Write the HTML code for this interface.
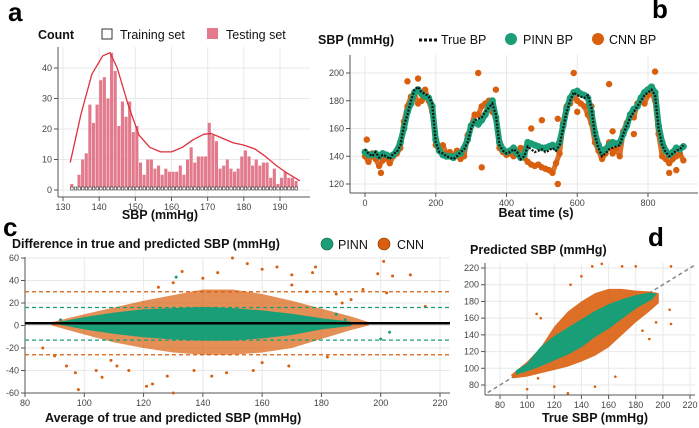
<!DOCTYPE html>
<html><head><meta charset="utf-8">
<style>
html,body{margin:0;padding:0;background:#fff;}
svg{display:block;font-family:"Liberation Sans",Arial,sans-serif;}
.tk{font-size:9px;fill:#444;}
.tt{font-size:12.5px;font-weight:bold;fill:#111;}
.lg{font-size:12.5px;fill:#111;}
.pl{font-size:26px;font-weight:bold;fill:#000;}
</style></head>
<body>
<svg id="fig" width="699" height="428" viewBox="0 0 699 428">
<rect x="0" y="0" width="699" height="428" fill="#fff"/>
</svg>
<script>
// ---------- Panel a data ----------
const histBins = [132,133,134,135,136,137,138,139,140,141,142,143,144,145,146,147,148,149,150,151,152,153,154,155,156,157,158,159,160,161,162,163,164,165,166,167,168,169,170,171,172,173,174,175,176,177,178,179,180,181,182,183,184,185,186,187,188,189,190,191,192,193,194];
const histCounts = [2,0,5,10,12,28,22,28,36,37,30,45,39,21,29,24,29,19,21,9,5,10,10,7,8,5,7,6,6,6,8,5,10,14,9,11,11,11,22,18,16,7,8,10,7,6,7,11,13,11,8,10,8,9,9,4,7,2,4,6,4,4,3];
const kdeX = [132,135,138,141,143,145,148,151,154,157,160,163,166,169,171,174,177,180,183,186,189,192,195.5];
const kdeY = [9,25,38,44,45,40,28,18,14,12.5,12.5,14,16.5,18.3,18.5,17,15.5,14.7,13.5,11,8,5.5,3];
const aXTicks = [130,140,150,160,170,180,190];
const aYTicks = [0,10,20,30,40];
// ---------- Panel b data ----------
const beatTime = [0,10,20,30,40,50,60,70,80,90,100,110,120,130,140,150,160,170,180,190,200,210,220,230,240,250,260,270,280,290,300,310,320,330,340,350,360,370,380,390,400,410,420,430,440,450,460,470,480,490,500,510,520,530,540,550,560,570,580,590,600,610,620,630,640,650,660,670,680,690,700,710,720,730,740,750,760,770,780,790,800,810,820,830,840,850,860,870,880,890,900];
const trueBP = [145,142,140,143,139,141,140,138,142,143,148,162,170,180,188,190,186,185,183,178,150,143,142,140,139,138,140,143,145,150,160,166,167,168,172,175,178,170,148,144,142,143,145,143,138,140,147,145,143,144,145,143,144,146,144,148,160,172,180,186,184,183,182,184,175,155,146,140,142,145,146,147,148,156,162,168,172,176,180,184,186,188,184,160,148,143,140,142,144,145,148];
const pinnBP = [143,141,141,142,140,142,141,140,141,144,150,160,172,178,186,188,185,183,182,176,152,144,141,140,140,139,141,142,146,152,162,165,163,166,170,176,180,168,150,145,143,144,146,142,139,141,150,149,148,147,146,146,147,148,146,150,162,174,182,186,187,185,184,182,172,157,148,143,145,148,150,149,150,156,162,170,174,176,182,186,188,190,186,162,150,144,141,143,146,145,147];
const cnnBP = [140,136,142,138,133,137,139,135,140,142,146,165,176,183,185,178,180,188,180,172,148,146,148,142,143,140,144,138,140,155,162,170,170,176,178,180,172,168,146,143,141,142,140,144,146,139,136,134,133,134,132,131,130,128,135,142,164,176,178,186,180,178,176,170,164,150,144,138,142,150,142,146,140,158,164,170,168,178,182,178,184,186,180,156,140,138,135,138,140,142,137];
const cnnOutT = [5,45,120,150,160,320,330,355,370,470,500,545,545,590,600,640,690,700,760,820,860,880];
const cnnOutV = [152,128,194,196,180,200,132,178,188,160,166,120,167,200,172,176,192,158,156,201,128,130];
const bXTicks = [0,200,400,600,800];
const bYTicks = [120,140,160,180,200];
// ---------- Panel c data ----------
const pinnEnvX = [92,100,110,120,130,140,150,160,170,180,190];
const pinnEnvUp = [3,7,11,14,15,16,15,13,10,6,3];
const pinnEnvLo = [1,-3,-7,-10,-12,-13,-13,-11,-8,-3,0];
const cnnEnvX = [89,100,110,120,130,140,150,160,170,180,190,196];
const cnnEnvUp = [3,10,16,22,27,32,32,28,22,15,8,3];
const cnnEnvLo = [0,-8,-15,-20,-24,-26,-26,-24,-20,-12,-4,0];
const cnnOutAvg = [86,90,97,98,104,106,121,123,130,128,133,140,145,150,155,160,165,170,178,177,185,190,199,201,204,210,202,215,182,169,157,148,115,111,94,109,194,187,130,125,170,175,160,143,137];
const cnnOutDiff = [-20,-27,-42,-57,-40,-46,-54,-52,-60,-45,48,42,47,60,55,50,52,45,52,47,28,23,46,57,44,45,29,17,-28,-36,-40,-42,-40,-36,-36,-31,32,20,38,34,36,30,-33,-45,-40];
const pinnOutAvg = [131,203,200,185,188,92];
const pinnOutDiff = [43,-6,-12,10,5,5];
const meanDiff = 2;
const pinnLoA = [16,-13];
const cnnLoA = [30,-26];
const cXTicks = [80,100,120,140,160,180,200,220];
const cYTicks = [-60,-40,-20,0,20,40,60];
// ---------- Panel d data ----------
const cnnPolyTrue = [88,100,110,120,130,140,150,160,170,180,190,197,197,190,180,170,160,150,140,130,120,110,100,90];
const cnnPolyPred = [92,108,125,150,168,180,190,195,195,193,192,190,178,168,155,140,125,115,108,102,98,94,90,88];
const pinnPolyTrue = [92,100,110,120,130,140,150,160,170,180,190,195,192,180,170,160,150,140,130,120,110,100,92];
const pinnPolyPred = [97,105,125,138,148,158,168,176,182,187,190,189,183,172,160,148,138,126,117,110,103,97,93];
const dOutTrue = [155,148,170,140,132,180,206,195,206,205,107,110,100,150,165,190,185,120,130,108];
const dOutPred = [225,222,222,210,200,222,222,155,153,170,165,160,75,78,90,135,145,78,70,88];
const dXTicks = [80,100,120,140,160,180,200,220];
const dYTicks = [80,100,120,140,160,180,200,220];

const TEAL = '#1a9e77', ORANGE = '#d95f0e', PINK = '#e27a8c';
const svg = document.getElementById('fig');
const NS = 'http://www.w3.org/2000/svg';
function mk(tag, attrs, parent) {
  const e = document.createElementNS(NS, tag);
  for (const k in attrs) e.setAttribute(k, attrs[k]);
  (parent || svg).appendChild(e);
  return e;
}
function txt(x, y, s, cls, anchor, parent) {
  const t = mk('text', {x: x, y: y, class: cls, 'text-anchor': anchor || 'start'}, parent);
  t.textContent = s;
  return t;
}
function scale(d0, d1, r0, r1) { return v => r0 + (v - d0) * (r1 - r0) / (d1 - d0); }
function axes(name, L, T, R, B, sx, sy, xt, yt) {
  const g = mk('g', {});
  
  
  xt.forEach(v => {
    const ln = mk('line', {x1: sx(v), x2: sx(v), y1: T, y2: B, stroke: '#e8e8e8', 'stroke-width': 1}, g);
    
    
    mk('line', {x1: sx(v), x2: sx(v), y1: B, y2: B + 4, stroke: '#555'}, g);
    const t = txt(sx(v), B + 13, String(v), 'tk', 'middle', g);
    
    
  });
  yt.forEach(v => {
    const ln = mk('line', {x1: L, x2: R, y1: sy(v), y2: sy(v), stroke: '#e8e8e8', 'stroke-width': 1}, g);
    
    
    mk('line', {x1: L - 4, x2: L, y1: sy(v), y2: sy(v), stroke: '#555'}, g);
    const t = txt(L - 6, sy(v) + 3, String(v), 'tk', 'end', g);
    
    
  });
  const xa = mk('line', {x1: L, x2: R, y1: B, y2: B, stroke: '#555'}, g);
  
  
  const ya = mk('line', {x1: L, x2: L, y1: T, y2: B, stroke: '#555'}, g);
  
  
}
function named(e, n) {   return e; }

// ================= Panel a =================
(function () {
  const L = 58, T = 47, R = 310, B = 197;
  const sx = scale(130, 190, 63, 280);
  const sy = scale(0, 40, 190, 68);
  axes('panel-a', L, T, R, B, sx, sy, aXTicks, aYTicks);
  const w = sx(1) - sx(0);
  histBins.forEach((b, i) => {
    if (histCounts[i] <= 0) return;
    const r = mk('rect', {x: sx(b), y: sy(histCounts[i]), width: w - 0.5, height: sy(0) - sy(histCounts[i]), fill: PINK});
    
    
  });
  histBins.forEach((b) => {
    const r = mk('rect', {x: sx(b) + 0.5, y: sy(0) - 3, width: w - 1.2, height: 3, fill: '#fff', stroke: '#333', 'stroke-width': 0.6});
    
    
  });
  const kde = mk('path', {d: kdeX.map((x, i) => (i ? 'L' : 'M') + sx(x) + ',' + sy(kdeY[i])).join(''), fill: 'none', stroke: '#e0303d', 'stroke-width': 1.3, 'stroke-linejoin': 'round'});
  
  
  named(txt(8, 21, 'a', 'pl'), 'panel-label-a');
  named(txt(38, 39, 'Count', 'tt'), 'y-axis-title-a');
  named(mk('rect', {x: 102, y: 29, width: 10, height: 10, fill: '#fff', stroke: '#333'}), 'legend-swatch-training');
  named(txt(120, 39, 'Training set', 'lg'), 'legend-label-training');
  named(mk('rect', {x: 207, y: 28, width: 11, height: 11, fill: PINK}), 'legend-swatch-testing');
  named(txt(226, 39, 'Testing set', 'lg'), 'legend-label-testing');
  named(txt(160, 219, 'SBP (mmHg)', 'tt', 'middle'), 'x-axis-title-a');
})();

// ================= Panel b =================
(function () {
  const L = 350, T = 55, R = 698, B = 193;
  const sx = scale(0, 800, 365, 648);
  const sy = scale(120, 200, 184, 73);
  axes('panel-b', L, T, R, B, sx, sy, bXTicks, bYTicks);
  const cnnLine = mk('polyline', {points: beatTime.map((t, i) => sx(t) + ',' + sy(cnnBP[i])).join(' '), fill: 'none', stroke: ORANGE, 'stroke-width': 5, 'stroke-linejoin': 'round', 'stroke-linecap': 'round', opacity: 0.9});
  
  
  beatTime.forEach((t, i) => {
    const c = mk('circle', {cx: sx(t), cy: sy(cnnBP[i]), r: 3.2, fill: ORANGE});
    
    
  });
  cnnOutT.forEach((t, i) => {
    const c = mk('circle', {cx: sx(t), cy: sy(cnnOutV[i]), r: 3.2, fill: ORANGE});
    
    
  });
  const pLine = mk('polyline', {points: beatTime.map((t, i) => sx(t) + ',' + sy(pinnBP[i])).join(' '), fill: 'none', stroke: TEAL, 'stroke-width': 6, 'stroke-linejoin': 'round', 'stroke-linecap': 'round'});
  
  
  beatTime.forEach((t, i) => {
    const c = mk('circle', {cx: sx(t), cy: sy(pinnBP[i]), r: 3.5, fill: TEAL});
    
    
  });
  const tLine = mk('polyline', {points: beatTime.map((t, i) => sx(t) + ',' + sy(trueBP[i])).join(' '), fill: 'none', stroke: '#111', 'stroke-width': 2.2, 'stroke-dasharray': '2 1.5'});
  
  
  named(txt(652, 18, 'b', 'pl'), 'panel-label-b');
  named(txt(318, 44, 'SBP (mmHg)', 'tt'), 'y-axis-title-b');
  named(mk('line', {x1: 419, x2: 437, y1: 40, y2: 40, stroke: '#111', 'stroke-width': 3, 'stroke-dasharray': '3 2'}), 'legend-swatch-true');
  named(txt(441, 44, 'True BP', 'lg'), 'legend-label-true');
  named(mk('circle', {cx: 511, cy: 39, r: 6, fill: TEAL}), 'legend-swatch-pinn');
  named(txt(523, 44, 'PINN BP', 'lg'), 'legend-label-pinn');
  named(mk('circle', {cx: 598, cy: 39, r: 6, fill: ORANGE}), 'legend-swatch-cnn');
  named(txt(609, 44, 'CNN BP', 'lg'), 'legend-label-cnn');
  named(txt(536, 217, 'Beat time (s)', 'tt', 'middle'), 'x-axis-title-b');
})();

// ================= Panel c =================
(function () {
  const L = 25, T = 257, R = 450, B = 393;
  const sx = scale(80, 220, 25, 440);
  const sy = scale(-60, 60, 393, 258);
  axes('panel-c', L, T, R, B, sx, sy, cXTicks, cYTicks);
  const cpts = cnnEnvX.map((x, i) => sx(x) + ',' + sy(cnnEnvUp[i])).concat(cnnEnvX.slice().reverse().map((x, j) => sx(x) + ',' + sy(cnnEnvLo[cnnEnvX.length - 1 - j]))).join(' ');
  const cp = mk('polygon', {points: cpts, fill: ORANGE, opacity: 0.7, 'stroke-linejoin': 'round'});
  
  
  cnnOutAvg.forEach((x, i) => {
    const c = mk('circle', {cx: sx(x), cy: sy(cnnOutDiff[i]), r: 1.5, fill: ORANGE});
    
    
  });
  const ppts = pinnEnvX.map((x, i) => sx(x) + ',' + sy(pinnEnvUp[i])).concat(pinnEnvX.slice().reverse().map((x, j) => sx(x) + ',' + sy(pinnEnvLo[pinnEnvX.length - 1 - j]))).join(' ');
  const pp = mk('polygon', {points: ppts, fill: TEAL, stroke: TEAL, 'stroke-width': 1, 'stroke-linejoin': 'round'});
  
  
  pinnOutAvg.forEach((x, i) => {
    const c = mk('circle', {cx: sx(x), cy: sy(pinnOutDiff[i]), r: 1.5, fill: TEAL});
    
    
  });
  cnnLoA.forEach(v => {
    const l = mk('line', {x1: L, x2: R, y1: sy(v), y2: sy(v), stroke: ORANGE, 'stroke-width': 1.3, 'stroke-dasharray': '4 3'});
    
    
  });
  pinnLoA.forEach(v => {
    const l = mk('line', {x1: L, x2: R, y1: sy(v), y2: sy(v), stroke: TEAL, 'stroke-width': 1.3, 'stroke-dasharray': '4 3'});
    
    
  });
  const ml = mk('line', {x1: L, x2: R, y1: sy(meanDiff), y2: sy(meanDiff), stroke: '#000', 'stroke-width': 2.6});
  
  
  named(txt(3, 236, 'c', 'pl'), 'panel-label-c');
  named(txt(12, 248, 'Difference in true and predicted SBP (mmHg)', 'tt'), 'y-axis-title-c');
  named(mk('circle', {cx: 327, cy: 244, r: 6, fill: TEAL, stroke: '#0d5e45', 'stroke-width': 0.6}), 'legend-swatch-pinn-c');
  named(txt(338, 249, 'PINN', 'lg'), 'legend-label-pinn-c');
  named(mk('circle', {cx: 384, cy: 244, r: 6, fill: ORANGE, stroke: '#7a3305', 'stroke-width': 0.6}), 'legend-swatch-cnn-c');
  named(txt(397, 249, 'CNN', 'lg'), 'legend-label-cnn-c');
  named(txt(45, 422, 'Average of true and predicted SBP (mmHg)', 'tt'), 'x-axis-title-c');
})();

// ================= Panel d =================
(function () {
  const L = 485, T = 263, R = 695, B = 395;
  const sx = scale(80, 220, 500, 690);
  const sy = scale(80, 220, 385, 268);
  axes('panel-d', L, T, R, B, sx, sy, dXTicks, dYTicks);
  const id = mk('line', {x1: sx(71), y1: sy(71), x2: sx(224), y2: sy(224), stroke: '#888', 'stroke-width': 1.5, 'stroke-dasharray': '4 3'});
  
  
  const cp = mk('polygon', {points: cnnPolyTrue.map((x, i) => sx(x) + ',' + sy(cnnPolyPred[i])).join(' '), fill: ORANGE, opacity: 0.9, 'stroke-linejoin': 'round'});
  
  
  dOutTrue.forEach((x, i) => {
    const c = mk('circle', {cx: sx(x), cy: sy(dOutPred[i]), r: 1.3, fill: ORANGE});
    
    
  });
  const pp = mk('polygon', {points: pinnPolyTrue.map((x, i) => sx(x) + ',' + sy(pinnPolyPred[i])).join(' '), fill: TEAL, stroke: TEAL, 'stroke-width': 1, 'stroke-linejoin': 'round'});
  
  
  named(txt(648, 246, 'd', 'pl'), 'panel-label-d');
  named(txt(470, 254, 'Predicted SBP (mmHg)', 'tt'), 'y-axis-title-d');
  named(txt(595, 422, 'True SBP (mmHg)', 'tt', 'middle'), 'x-axis-title-d');
})();
</script>
</body></html>
